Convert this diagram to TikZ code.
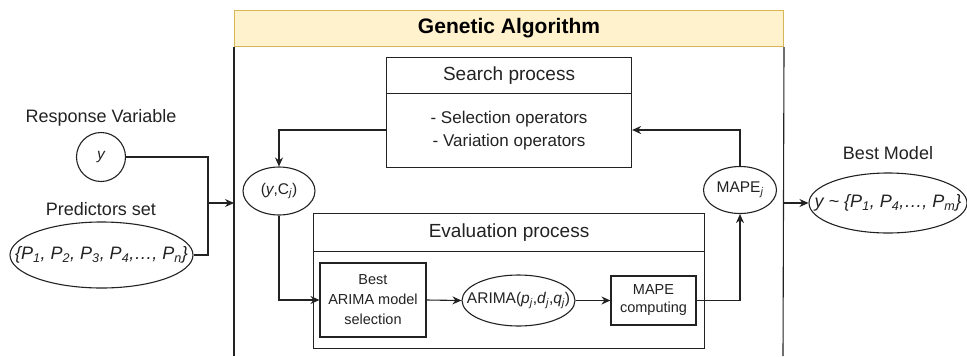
\documentclass[tikz,border=0pt]{standalone}
\usepackage{fontspec}
\setmainfont{Liberation Sans}
\usetikzlibrary{shapes.geometric,arrows.meta}
\definecolor{gafill}{HTML}{FFF2CC}
\definecolor{gaborder}{HTML}{D6B656}
\definecolor{ink}{HTML}{222222}
\newcommand{\isub}[1]{\textsubscript{\itshape #1}}
\tikzset{
  base/.style={draw=ink, line width=1.1bp, inner sep=0pt, align=center, text=ink},
  ell/.style={base, ellipse},
  rbox/.style={base, rectangle},
  lbl/.style={inner sep=0pt, text=ink},
  conn/.style={draw=ink, line width=1.1bp},
  arr/.style={conn, -{Stealth[length=9bp,width=8bp]}},
  big/.style={font=\fontsize{18bp}{21bp}\selectfont},
  head/.style={font=\fontsize{19bp}{22bp}\selectfont},
  small/.style={font=\fontsize{14.5bp}{17bp}\selectfont},
}
\begin{document}
\begin{tikzpicture}[x=1bp,y=-1bp]
\useasboundingbox (0,0) rectangle (967,356);
\fontsize{15.5bp}{18bp}\selectfont
% Genetic algorithm frame
\node[draw=gaborder, fill=gafill, line width=1bp, minimum width=549bp, minimum height=36bp, anchor=north west, inner sep=0pt,
  font=\fontsize{21bp}{24bp}\selectfont\bfseries] (ga) at (234,10) {Genetic Algorithm};
\draw[conn] (ga.south west) -- (234,356);
\draw[conn] (ga.south east) -- (783,356);
\coordinate (gaL) at (234,203);
\coordinate (gaR) at (783,203);

% left inputs
\node[lbl, big] (rv) at (101,118) {Response Variable};
\node[base, circle, minimum size=49bp] (y) at (101,157) {\itshape y};
\node[lbl, big] (ps) at (101,209) {Predictors set};
\node[ell, minimum width=183bp, minimum height=66bp] (pred) at (101.5,255) {};
\node[lbl, big] (predt) at (pred.center)
  {\itshape \{P\isub{1}, P\isub{2}, P\isub{3}, P\isub{4},…, P\isub{n}\}};
\coordinate (J) at (208,203);
\draw[conn] (y.east) -| (J);
\draw[conn] (pred.east) -| (J);
\draw[arr] (J) -- (gaL);

% search process
\node[rbox, head, minimum width=245bp, minimum height=36bp, anchor=north west] (sh) at (386,57) {Search process};
\node[rbox, minimum width=245bp, minimum height=74bp, anchor=north west, font=\fontsize{17bp}{20bp}\selectfont] (sb) at (386,93)
  {- Selection operators\\[3bp]- Variation operators};

\node[ell, minimum width=72bp, minimum height=48bp] (yc) at (279,191) {};
\node[lbl] (yct) at (yc.center) {(\textit{y},C\isub{j})};
\node[ell, minimum width=73bp, minimum height=47bp] (mj) at (740,190) {};
\node[lbl] (mjt) at (mj.center) {MAPE\isub{j}};

\draw[arr] (sb.west |- 0,130) -| (yc.north);
\draw[arr] (mj.north) |- (sb.east |- 0,130);

% evaluation process
\node[rbox, head, minimum width=391bp, minimum height=38bp, anchor=north west] (eh) at (313,213) {Evaluation process};
\node[rbox, minimum width=391bp, minimum height=97bp, anchor=north west] (eb) at (313,251) {};

\node[rbox, small, minimum width=106bp, minimum height=74bp] (ba) at (373,300)
  {Best\\[3bp]ARIMA model\\[3bp]selection};
\node[ell, minimum width=113bp, minimum height=51bp] (ar) at (518.5,300.5) {};
\node[lbl] (art) at (ar.center)
  {ARIMA(\textit{p}\isub{j},\textit{d}\isub{j},\textit{q}\isub{j})};
\node[rbox, small, minimum width=85bp, minimum height=49bp] (mc) at (653.5,300.5)
  {MAPE\\[1bp]computing};

\draw[arr] (yc.south) |- (ba.west);
\draw[arr] (ba.east) -- (ar.west);
\draw[arr] (ar.east) -- (mc.west);
\draw[arr] (mc.east) -| (mj.south);

% output
\node[lbl, big] (bmt) at (888,153) {Best Model};
\node[ell, minimum width=158bp, minimum height=60bp] (bm) at (888,203) {};
\node[lbl, big] (bmtx) at (bm.center)
  {\itshape y \textasciitilde{} \{P\isub{1}, P\isub{4},…, P\isub{m}\}};
\draw[arr] (gaR) -- (bm.west);
\end{tikzpicture}
\end{document}
